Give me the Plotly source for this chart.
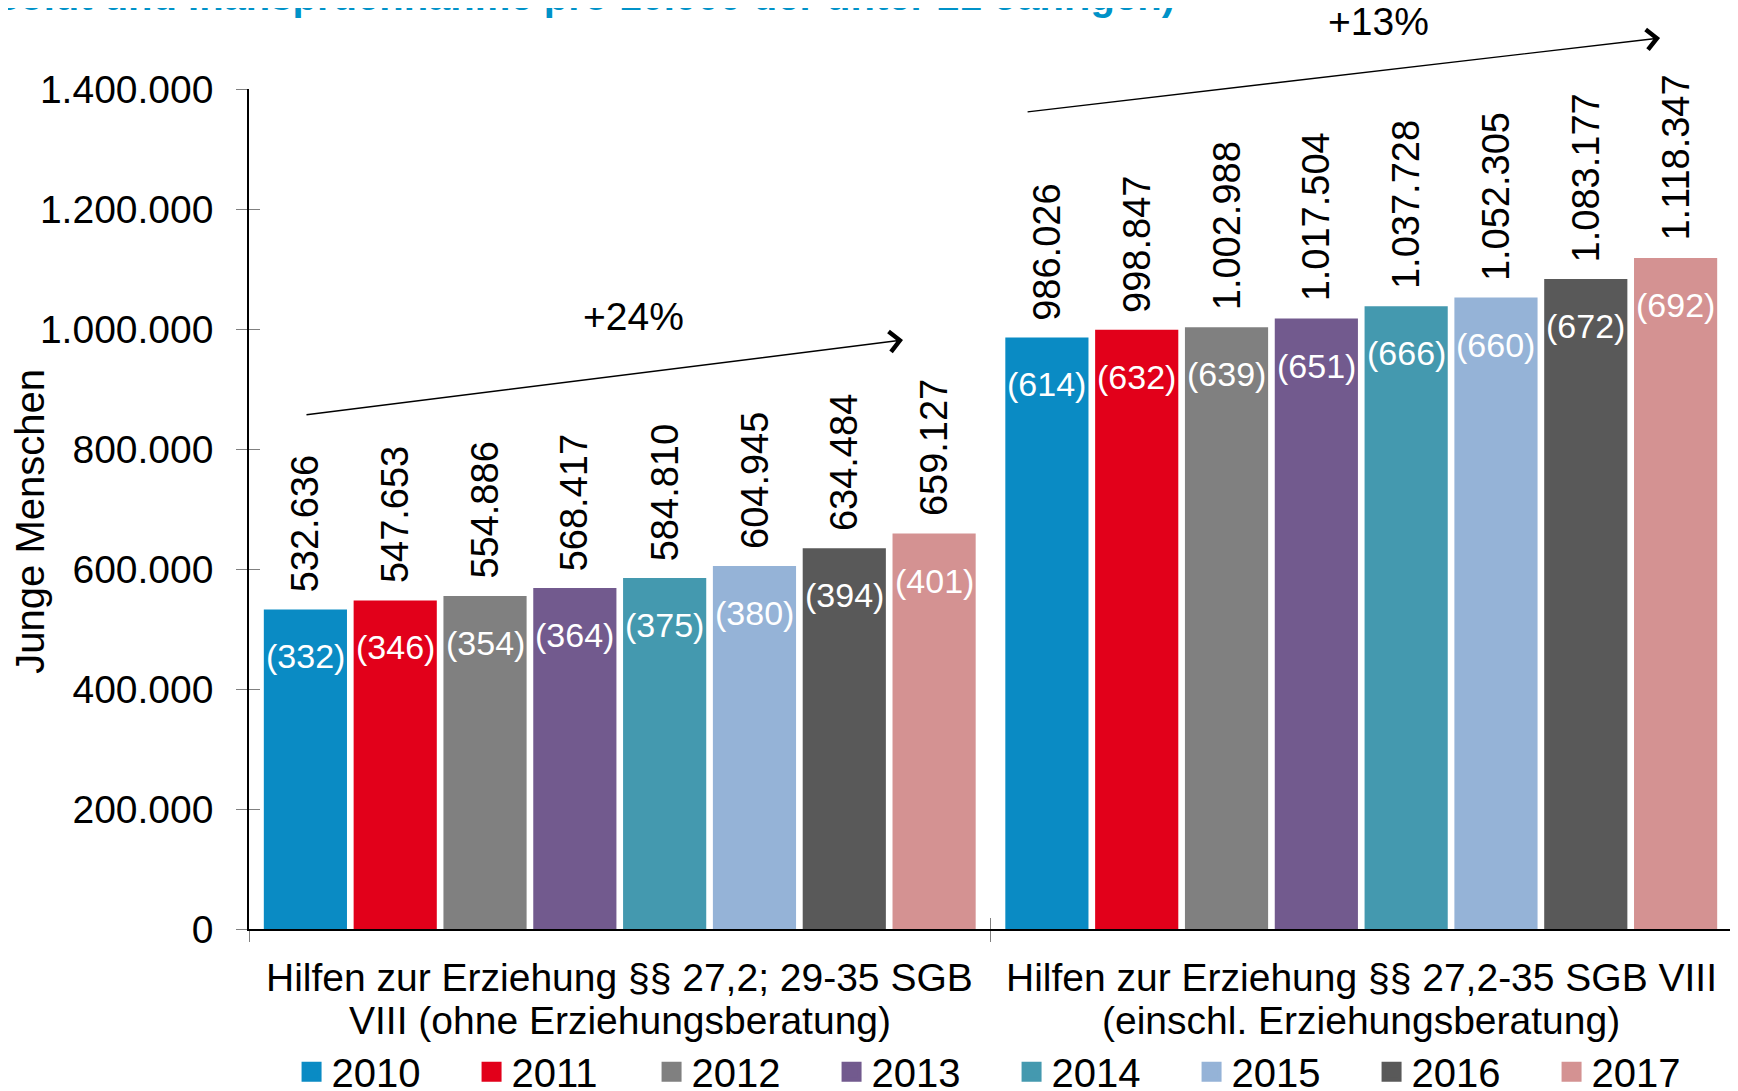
import plotly.graph_objects as go

years = ["2010", "2011", "2012", "2013", "2014", "2015", "2016", "2017"]
category_lines = [
    ["Hilfen zur Erziehung §§ 27,2; 29-35 SGB", "VIII (ohne Erziehungsberatung)"],
    ["Hilfen zur Erziehung §§ 27,2-35 SGB VIII", "(einschl. Erziehungsberatung)"],
]
categories = ["<br>".join(l) for l in category_lines]
hze_ohne_eb = [532636, 547653, 554886, 568417, 584810, 604945, 634484, 659127]
hze_mit_eb = [986026, 998847, 1002988, 1017504, 1037728, 1052305, 1083177, 1118347]
quote_ohne_eb = [332, 346, 354, 364, 375, 380, 394, 401]
quote_mit_eb = [614, 632, 639, 651, 666, 660, 672, 692]
colors = ["#0A8BC4", "#E2001A", "#808080", "#725A8E", "#4499AF",
          "#95B3D7", "#595959", "#D49292"]
y_ticks = [0, 200000, 400000, 600000, 800000, 1000000, 1200000, 1400000]

FONT = "Arial, 'Liberation Sans', sans-serif"
BARGAP = 0.031
BARGROUPGAP = 0.074


def de(v):
    return f"{v:,}".replace(",", ".")


fig = go.Figure()
for i, yr in enumerate(years):
    fig.add_trace(go.Bar(
        name=yr, x=categories, y=[hze_ohne_eb[i], hze_mit_eb[i]],
        marker=dict(color=colors[i], line=dict(width=0)),
        showlegend=False, hoverinfo="skip",
    ))
for i, yr in enumerate(years):
    fig.add_trace(go.Scatter(
        name=yr, x=[None], y=[None], mode="markers",
        marker=dict(symbol="square", size=16, color=colors[i],
                    line=dict(width=4, color=colors[i])),
        showlegend=True,
    ))
# helper traces for overlay axes (inside half of crossing ticks)
fig.add_trace(go.Scatter(x=[None], y=[None], yaxis="y2", showlegend=False, hoverinfo="skip"))
fig.add_trace(go.Scatter(x=categories, y=[None, None], xaxis="x2", showlegend=False, hoverinfo="skip"))

slot = (1 - BARGAP) / len(years)
ann = []
for c, (vals, rates) in enumerate([(hze_ohne_eb, quote_ohne_eb), (hze_mit_eb, quote_mit_eb)]):
    for i in range(len(years)):
        xpos = c + (i - (len(years) - 1) / 2) * slot
        ann.append(dict(x=xpos, y=vals[i], xref="x", yref="y", text=de(vals[i]),
                        textangle=-90, showarrow=False, xanchor="center", yanchor="bottom",
                        yshift=15, font=dict(family=FONT, size=38, color="#000000")))
        ann.append(dict(x=xpos, y=vals[i], xref="x", yref="y", text=f"({rates[i]})",
                        showarrow=False, xanchor="center", yanchor="middle",
                        yshift=-47, font=dict(family=FONT, size=34, color="#FFFFFF")))

# category labels (two lines each)
for c, lines in enumerate(category_lines):
    for j, line in enumerate(lines):
        ann.append(dict(x=c, y=[-0.0583, -0.1095][j], xref="x", yref="paper", text=line,
                        showarrow=False, xanchor="center", yanchor="middle",
                        font=dict(family=FONT, size=39, color="#000000")))

# growth arrows
ann.append(dict(x=0.382, y=981667, ax=-0.4245, ay=856667, xref="x", yref="y",
                axref="x", ayref="y", showarrow=True, arrowhead=4, arrowsize=2.8,
                arrowwidth=1.4, arrowcolor="#000000", standoff=0, text=""))
ann.append(dict(x=1.403, y=1485000, ax=0.548, ay=1361667, xref="x", yref="y",
                axref="x", ayref="y", showarrow=True, arrowhead=4, arrowsize=2.8,
                arrowwidth=1.4, arrowcolor="#000000", standoff=0, text=""))
ann.append(dict(x=0.019, y=1021667, xref="x", yref="y", text="+24%", showarrow=False,
                font=dict(family=FONT, size=39, color="#000000")))
ann.append(dict(x=1.0226, y=1.0798, xref="x", yref="paper", text="+13%", showarrow=False,
                xanchor="center", yanchor="middle",
                font=dict(family=FONT, size=39, color="#000000")))
# y axis title
ann.append(dict(x=-0.1477, y=0.486, xref="paper", yref="paper", text="Junge Menschen",
                textangle=-90, showarrow=False, xanchor="center", yanchor="middle",
                font=dict(family=FONT, size=40, color="#000000")))
# cut-off title at the top
ann.append(dict(x=0.6258, y=1.082, xref="paper", yref="paper",
                text="<b>(absolut und Inanspruchnahme pro 10.000 der unter 21-Jährigen)</b>",
                showarrow=False, xanchor="right", yanchor="bottom",
                font=dict(family=FONT, size=40, color="#0092C8")))

fig.update_layout(
    width=1738, height=1091,
    margin=dict(l=241, r=14, t=81, b=170, autoexpand=False),
    paper_bgcolor="white", plot_bgcolor="white",
    barmode="group", bargap=BARGAP, bargroupgap=BARGROUPGAP,
    font=dict(family=FONT, size=38, color="#000000"),
    annotations=ann,
    showlegend=True,
    legend=dict(orientation="h", x=0.0287, y=-0.17, xanchor="left", yanchor="middle",
                font=dict(family=FONT, size=40, color="#000000"),
                entrywidth=135, itemsizing="trace", bgcolor="rgba(0,0,0,0)",
                tracegroupgap=0),
    xaxis=dict(type="category", categoryorder="array", categoryarray=categories,
               range=[-0.5, 1.5], tickson="boundaries", ticks="outside", ticklen=11,
               tickwidth=1, tickcolor="#808080", showline=True, linecolor="#000000",
               linewidth=1.5, showgrid=False, zeroline=False, showticklabels=False),
    xaxis2=dict(type="category", categoryorder="array", categoryarray=categories,
                range=[-0.5, 1.5], tickson="boundaries", ticks="inside", ticklen=11,
                tickwidth=1, tickcolor="#808080", showline=False, showgrid=False,
                showticklabels=False, zeroline=False, overlaying="x", anchor="y"),
    yaxis=dict(range=[0, 1400000], tickvals=y_ticks, ticktext=[de(v) for v in y_ticks],
               ticks="outside", ticklen=11, tickwidth=1, tickcolor="#808080",
               ticklabelstandoff=15,
               showline=True, linecolor="#000000", linewidth=1.5, showgrid=False,
               zeroline=False, tickfont=dict(family=FONT, size=39, color="#000000")),
    yaxis2=dict(range=[0, 1400000], tickvals=y_ticks, ticks="inside", ticklen=11,
                tickwidth=1, tickcolor="#808080", showticklabels=False, showline=False,
                showgrid=False, zeroline=False, overlaying="y", side="left", anchor="x"),
)

fig.write_html("out.html")
